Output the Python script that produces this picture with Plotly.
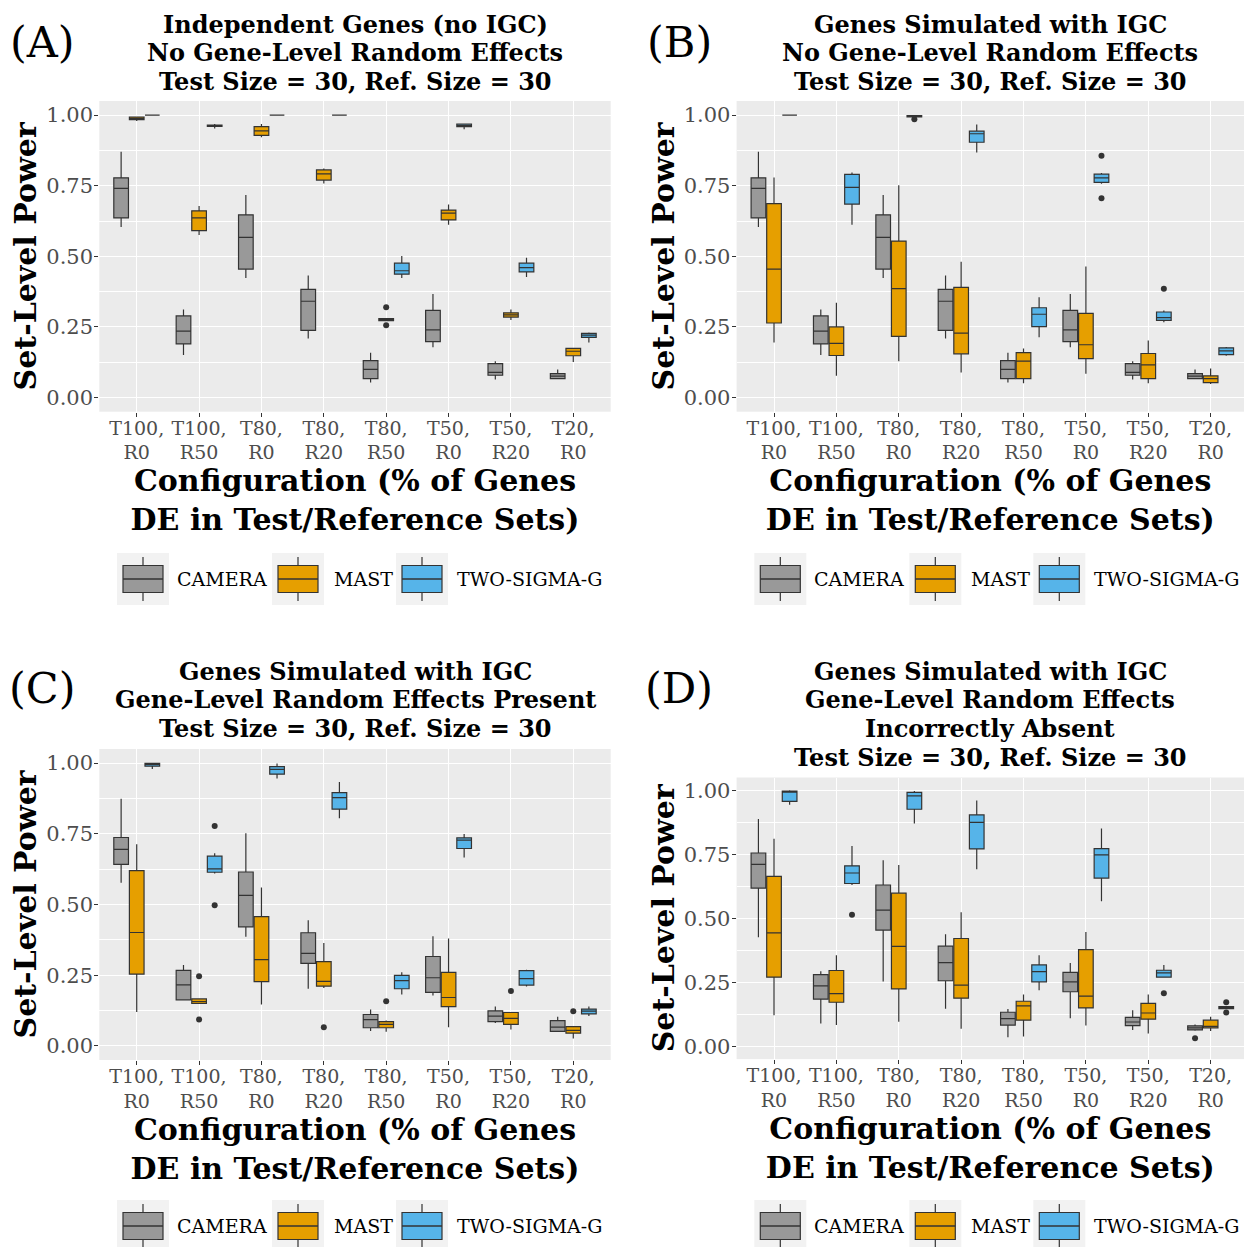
import plotly.graph_objects as go

W, H = 1244, 1247

CONFIGS = ["T100,<br>R0", "T100,<br>R50", "T80,<br>R0", "T80,<br>R20",
           "T80,<br>R50", "T50,<br>R0", "T50,<br>R20", "T20,<br>R0"]
METHODS = ["CAMERA", "MAST", "TWO-SIGMA-G"]
COLORS = ["#999999", "#E69F00", "#56B4E9"]
Y_TICKS = [0.0, 0.25, 0.5, 0.75, 1.0]
Y_TICKTEXT = ["0.00", "0.25", "0.50", "0.75", "1.00"]

# rows: [lower whisker, Q1, median, Q3, upper whisker], one row per configuration
A_CAMERA = [[0.604, 0.636, 0.741, 0.778, 0.870], [0.151, 0.190, 0.235, 0.289, 0.312],
            [0.423, 0.455, 0.567, 0.647, 0.717], [0.209, 0.238, 0.341, 0.383, 0.432],
            [0.053, 0.067, 0.100, 0.131, 0.159], [0.178, 0.198, 0.240, 0.309, 0.367],
            [0.064, 0.079, 0.089, 0.120, 0.129], [0.065, 0.067, 0.076, 0.085, 0.099]]
A_MAST = [[0.979, 0.984, 0.988, 0.993, 0.995], [0.576, 0.591, 0.636, 0.661, 0.678],
          [0.922, 0.928, 0.944, 0.959, 0.969], [0.758, 0.770, 0.792, 0.806, 0.811],
          [0.272, 0.272, 0.276, 0.280, 0.280], [0.612, 0.629, 0.653, 0.664, 0.684],
          [0.275, 0.285, 0.293, 0.300, 0.312], [0.126, 0.148, 0.164, 0.174, 0.176]]
A_TSG = [[1.0, 1.0, 1.0, 1.0, 1.0], [0.953, 0.960, 0.962, 0.965, 0.969],
         [1.0, 1.0, 1.0, 1.0, 1.0], [1.0, 1.0, 1.0, 1.0, 1.0],
         [0.423, 0.437, 0.449, 0.476, 0.501], [0.950, 0.959, 0.963, 0.968, 0.970],
         [0.427, 0.445, 0.460, 0.476, 0.495], [0.195, 0.213, 0.221, 0.227, 0.230]]
A_CAMERA_OUT = [[], [], [], [], [], [], [], []]
A_MAST_OUT = [[], [], [], [], [0.320, 0.256], [], [], []]
A_TSG_OUT = [[], [], [], [], [], [], [], []]

B_CAMERA = A_CAMERA
B_MAST = [[0.195, 0.264, 0.455, 0.687, 0.779], [0.077, 0.149, 0.192, 0.250, 0.336],
          [0.129, 0.217, 0.386, 0.554, 0.752], [0.089, 0.155, 0.228, 0.390, 0.481],
          [0.051, 0.067, 0.129, 0.159, 0.174], [0.084, 0.138, 0.187, 0.298, 0.464],
          [0.051, 0.067, 0.116, 0.156, 0.202], [0.048, 0.053, 0.067, 0.077, 0.103]]
B_TSG = [[1.0, 1.0, 1.0, 1.0, 1.0], [0.612, 0.685, 0.744, 0.790, 0.797],
         [0.992, 0.994, 0.996, 0.998, 1.0], [0.868, 0.904, 0.934, 0.943, 0.967],
         [0.214, 0.251, 0.295, 0.318, 0.355], [0.757, 0.762, 0.778, 0.791, 0.795],
         [0.267, 0.273, 0.283, 0.303, 0.308], [0.148, 0.152, 0.165, 0.176, 0.179]]
B_CAMERA_OUT = [[], [], [], [], [], [], [], []]
B_MAST_OUT = [[], [], [], [], [], [], [], []]
B_TSG_OUT = [[], [], [0.985], [], [], [0.856, 0.706], [0.385], []]

C_CAMERA = [[0.577, 0.642, 0.695, 0.737, 0.874], [0.161, 0.163, 0.216, 0.267, 0.286],
            [0.386, 0.421, 0.532, 0.615, 0.752], [0.202, 0.292, 0.327, 0.400, 0.444],
            [0.053, 0.064, 0.093, 0.111, 0.129], [0.178, 0.189, 0.241, 0.316, 0.388],
            [0.081, 0.086, 0.105, 0.124, 0.139], [0.050, 0.051, 0.066, 0.089, 0.103]]
C_MAST = [[0.120, 0.254, 0.401, 0.620, 0.713], [0.150, 0.150, 0.157, 0.166, 0.166],
          [0.146, 0.227, 0.305, 0.457, 0.560], [0.205, 0.211, 0.228, 0.298, 0.364],
          [0.050, 0.064, 0.076, 0.086, 0.090], [0.066, 0.139, 0.171, 0.260, 0.380],
          [0.058, 0.076, 0.097, 0.118, 0.120], [0.026, 0.045, 0.055, 0.068, 0.070]]
C_TSG = [[0.979, 0.989, 0.995, 0.999, 1.0], [0.610, 0.614, 0.626, 0.671, 0.681],
         [0.946, 0.961, 0.978, 0.988, 0.999], [0.805, 0.837, 0.878, 0.896, 0.933],
         [0.182, 0.202, 0.231, 0.249, 0.260], [0.666, 0.698, 0.728, 0.736, 0.749],
         [0.210, 0.215, 0.238, 0.266, 0.269], [0.106, 0.113, 0.123, 0.130, 0.139]]
C_CAMERA_OUT = [[], [], [], [], [], [], [], []]
C_MAST_OUT = [[], [0.246, 0.093], [], [0.066], [0.158], [], [0.194], [0.122]]
C_TSG_OUT = [[], [0.778, 0.497], [], [], [], [], [], []]

D_CAMERA = [[0.426, 0.618, 0.711, 0.755, 0.888], [0.089, 0.184, 0.236, 0.280, 0.293],
            [0.253, 0.454, 0.532, 0.630, 0.727], [0.147, 0.256, 0.327, 0.391, 0.438],
            [0.035, 0.083, 0.108, 0.133, 0.146], [0.110, 0.213, 0.252, 0.289, 0.325],
            [0.064, 0.081, 0.095, 0.113, 0.141], [0.061, 0.064, 0.072, 0.080, 0.085]]
D_MAST = [[0.121, 0.270, 0.443, 0.664, 0.811], [0.083, 0.172, 0.206, 0.296, 0.356],
          [0.096, 0.224, 0.390, 0.598, 0.708], [0.069, 0.188, 0.239, 0.421, 0.524],
          [0.038, 0.102, 0.158, 0.176, 0.202], [0.081, 0.150, 0.196, 0.378, 0.446],
          [0.050, 0.106, 0.130, 0.168, 0.202], [0.060, 0.072, 0.078, 0.102, 0.115]]
D_TSG = [[0.944, 0.957, 0.995, 0.997, 1.0], [0.630, 0.636, 0.677, 0.705, 0.782],
         [0.870, 0.926, 0.978, 0.992, 0.997], [0.692, 0.771, 0.875, 0.904, 0.960],
         [0.219, 0.252, 0.292, 0.318, 0.356], [0.567, 0.657, 0.748, 0.772, 0.851],
         [0.270, 0.270, 0.287, 0.297, 0.318], [0.147, 0.147, 0.151, 0.155, 0.155]]
D_CAMERA_OUT = [[], [], [], [], [], [], [], [0.031]]
D_MAST_OUT = [[], [], [], [], [], [], [], []]
D_TSG_OUT = [[], [0.514], [], [], [], [], [0.207], [0.172, 0.132]]

TITLES = {
    "A": ["Independent Genes (no IGC)", "No Gene-Level Random Effects", "Test Size = 30, Ref. Size = 30"],
    "B": ["Genes Simulated with IGC", "No Gene-Level Random Effects", "Test Size = 30, Ref. Size = 30"],
    "C": ["Genes Simulated with IGC", "Gene-Level Random Effects Present", "Test Size = 30, Ref. Size = 30"],
    "D": ["Genes Simulated with IGC", "Gene-Level Random Effects", "Incorrectly Absent", "Test Size = 30, Ref. Size = 30"],
}
X_TITLE = "Configuration (% of Genes<br>DE in Test/Reference Sets)"
Y_TITLE = "Set-Level Power"

FONT = "DejaVu Serif"
BOX_GAP = 0.25

# layout geometry in pixels: (left, right, top, bottom, x-range max, first title line y, letter y, legend y)
PANEL_GEOM = {
    "A": (99.3, 610.7, 101.0, 411.7, 7.6, 24.0, 42, 579),
    "B": (736.6, 1244.0, 101.0, 411.7, 7.535, 24.0, 42, 579),
    "C": (99.3, 610.7, 749.0, 1060.0, 7.6, 671.0, 688, 1226),
    "D": (736.6, 1244.0, 777.5, 1059.1, 7.535, 671.0, 688, 1226),
}
PANEL_DATA = {
    "A": ([A_CAMERA, A_MAST, A_TSG], [A_CAMERA_OUT, A_MAST_OUT, A_TSG_OUT]),
    "B": ([B_CAMERA, B_MAST, B_TSG], [B_CAMERA_OUT, B_MAST_OUT, B_TSG_OUT]),
    "C": ([C_CAMERA, C_MAST, C_TSG], [C_CAMERA_OUT, C_MAST_OUT, C_TSG_OUT]),
    "D": ([D_CAMERA, D_MAST, D_TSG], [D_CAMERA_OUT, D_MAST_OUT, D_TSG_OUT]),
}


def px(x):
    return x / W


def py(y):
    return 1 - y / H


fig = go.Figure()
annotations = []
shapes = []
positions = list(range(len(CONFIGS)))
slot = (1 - BOX_GAP) / len(METHODS)

for i, key in enumerate(["A", "B", "C", "D"]):
    left, right, top, bottom, xmax, title_y, letter_y, legend_y = PANEL_GEOM[key]
    suffix = "" if i == 0 else str(i + 1)
    stats_list, outs_list = PANEL_DATA[key]
    for m in range(3):
        stats = stats_list[m]
        fig.add_trace(go.Box(
            x=positions,
            lowerfence=[r[0] for r in stats],
            q1=[r[1] for r in stats],
            median=[r[2] for r in stats],
            q3=[r[3] for r in stats],
            upperfence=[r[4] for r in stats],
            boxpoints=False,
            line=dict(color="#333333", width=1.2),
            fillcolor=COLORS[m], whiskerwidth=0,
            offsetgroup=str(m), name=METHODS[m], showlegend=False,
            xaxis="x" + suffix, yaxis="y" + suffix,
        ))
    # outliers, placed at the dodged position of their box
    for m in range(3):
        ox, oy = [], []
        for c, vals in enumerate(outs_list[m]):
            for v in vals:
                ox.append(c + (m - 1) * slot)
                oy.append(v)
        if ox:
            fig.add_trace(go.Scatter(
                x=ox, y=oy, mode="markers",
                marker=dict(color="#333333", size=6),
                showlegend=False, hoverinfo="y",
                xaxis="x" + suffix, yaxis="y" + suffix,
            ))

    fig.update_layout({
        "xaxis" + suffix: dict(
            domain=[px(left), px(right)], range=[-0.6, xmax],
            tickvals=positions, ticktext=CONFIGS,
            anchor="y" + suffix, showgrid=True, gridcolor="white", gridwidth=1.2,
            zeroline=False, showline=False, ticks="outside", ticklen=4,
            tickcolor="#333333", tickwidth=1, ticklabelstandoff=-5,
            tickfont=dict(family=FONT, size=19, color="#4D4D4D"),
            title=dict(text="<b>" + X_TITLE + "</b>", standoff=1,
                       font=dict(family=FONT, size=30, color="black")),
            fixedrange=True,
        ),
        "yaxis" + suffix: dict(
            domain=[py(bottom), py(top)], range=[-0.05, 1.05],
            anchor="x" + suffix, tickvals=Y_TICKS, ticktext=Y_TICKTEXT,
            showgrid=True, gridcolor="white", gridwidth=1.2,
            minor=dict(showgrid=True, gridcolor="white", gridwidth=0.6, dtick=0.125, tick0=0),
            zeroline=False, showline=False, ticks="outside", ticklen=4,
            tickcolor="#333333", tickwidth=1, ticklabelstandoff=-3,
            tickfont=dict(family=FONT, size=21, color="#4D4D4D"),
            title=dict(text="<b>" + Y_TITLE + "</b>", standoff=0,
                       font=dict(family=FONT, size=30, color="black")),
            fixedrange=True,
        ),
    })

    # panel letter
    annotations.append(dict(
        text="(" + key + ")", x=px(42 + (left - 99.3)), y=py(letter_y), xref="paper", yref="paper",
        xanchor="center", yanchor="middle", showarrow=False,
        font=dict(family=FONT, size=43, color="black")))
    # panel title, one annotation per line
    centre_x = px((left + min(right, left + 511.4)) / 2)
    for k, line in enumerate(TITLES[key]):
        annotations.append(dict(
            text="<b>" + line + "</b>",
            x=centre_x, y=py(title_y + 28.8 * k), xref="paper", yref="paper",
            xanchor="center", yanchor="middle", showarrow=False,
            font=dict(family=FONT, size=24, color="black")))

    # legend keys under each panel
    key_offsets = [17.7, 172.7, 296.7]
    text_offsets = [75.7, 232.7, 355.7]
    for m in range(3):
        kx = left + key_offsets[m]
        shapes.append(dict(type="rect", xref="paper", yref="paper",
                           x0=px(kx), x1=px(kx + 52), y0=py(legend_y - 26), y1=py(legend_y + 26),
                           fillcolor="#F2F2F2", line=dict(width=0), layer="below"))
        shapes.append(dict(type="line", xref="paper", yref="paper",
                           x0=px(kx + 26), x1=px(kx + 26), y0=py(legend_y - 22), y1=py(legend_y + 22),
                           line=dict(color="#333333", width=1.2)))
        shapes.append(dict(type="rect", xref="paper", yref="paper",
                           x0=px(kx + 6), x1=px(kx + 46), y0=py(legend_y - 13.5), y1=py(legend_y + 13.5),
                           fillcolor=COLORS[m], line=dict(color="#333333", width=1.2)))
        shapes.append(dict(type="line", xref="paper", yref="paper",
                           x0=px(kx + 6), x1=px(kx + 46), y0=py(legend_y), y1=py(legend_y),
                           line=dict(color="#333333", width=1.6)))
        annotations.append(dict(
            text=METHODS[m], x=px(left + text_offsets[m]), y=py(legend_y), xref="paper", yref="paper",
            xanchor="left", yanchor="middle", showarrow=False,
            font=dict(family=FONT, size=19, color="black")))

fig.update_layout(
    width=W, height=H, margin=dict(l=0, r=0, t=0, b=0),
    paper_bgcolor="white", plot_bgcolor="#EBEBEB",
    boxmode="group", boxgap=BOX_GAP, boxgroupgap=0.06,
    showlegend=False, annotations=annotations, shapes=shapes,
    font=dict(family=FONT),
)

fig.write_html("out.html")
